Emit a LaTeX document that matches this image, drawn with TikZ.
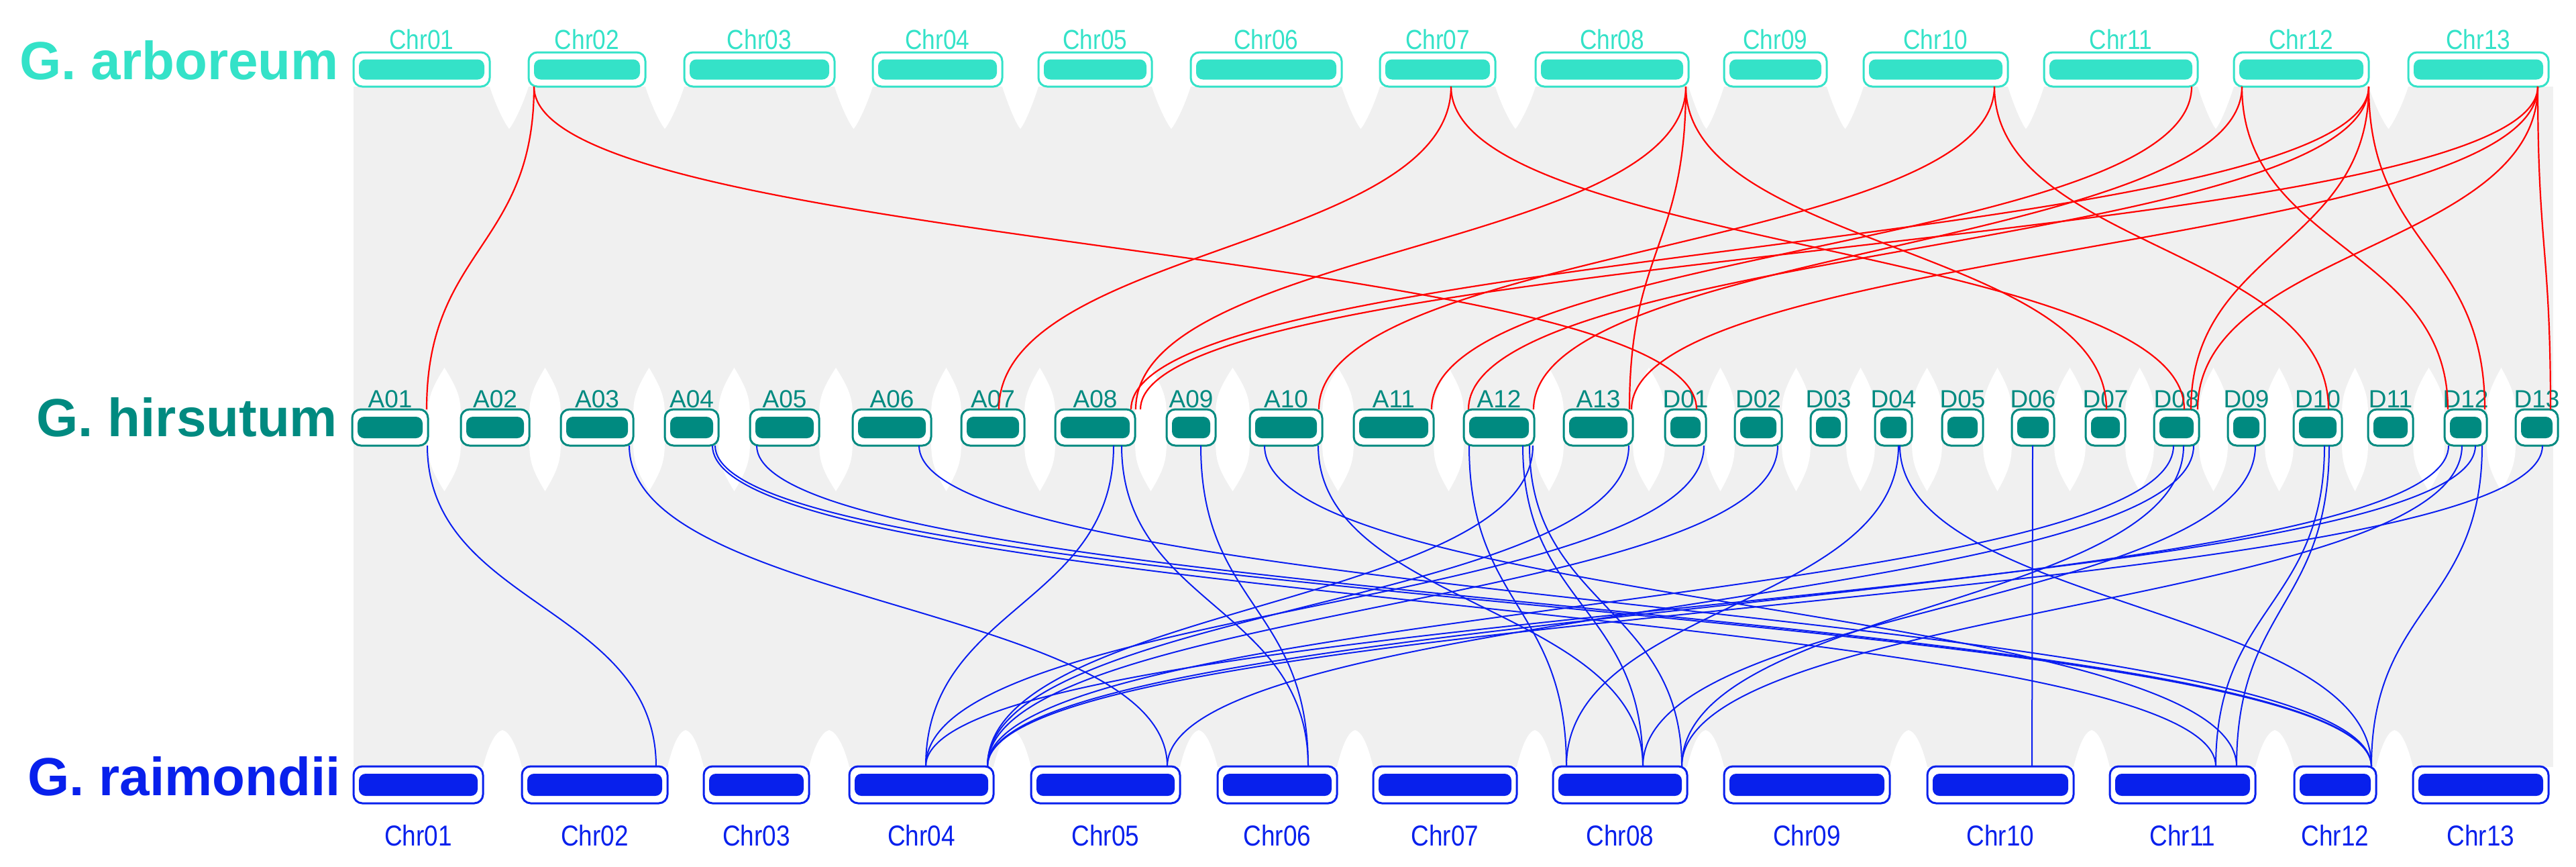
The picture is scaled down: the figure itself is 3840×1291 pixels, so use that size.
\documentclass[tikz,border=0pt]{standalone}
\usepackage{fontspec}
\setmainfont{Liberation Sans}
\newfontfamily\narrowfont[FakeStretch=0.86]{Liberation Sans}
\definecolor{topc}{RGB}{52,226,200}
\definecolor{midc}{RGB}{0,138,128}
\definecolor{botc}{RGB}{8,32,236}
\definecolor{redl}{RGB}{255,0,0}
\definecolor{bluel}{RGB}{10,30,240}
\definecolor{bgg}{RGB}{240,240,240}
\newcommand\chrom[7]{% name, x1, x2, yc, colour, label, label baseline
  \pgfmathsetmacro\cx{(#2+#3)/2}%
  \pgfmathsetmacro\cw{#3-#2}%
  \pgfmathsetmacro\ciw{#3-#2-16}%
  \node[chrout, draw=#5, minimum width=\cw pt, minimum height=\oh pt] (#1) at (\cx,#4) {};
  \node[chrin, fill=#5, minimum width=\ciw pt, minimum height=\ih pt] (#1in) at (#1.center) {};
  \node[chrlab, text=#5, font=\labfont] (#1lab) at (\cx,#7) {#6};
}
\newcommand\rlink[4]{\draw[redlink] (#1,0 |- #2.south) .. controls +(0,240) and +(0,-240) .. (#3,0 |- #4.north);}
\newcommand\blink[4]{\draw[bluelink] (#1,0 |- #2.south) .. controls +(0,239) and +(0,-239) .. (#3,0 |- #4.north);}
\newcommand\topgap[2]{\pgfmathsetmacro\gm{(#1+#2)/2}\fill[white] (#1,129) .. controls (#1+10,160) and (\gm-6,185) .. (\gm,192) .. controls (\gm+6,185) and (#2-10,160) .. (#2,129) -- cycle;}
\newcommand\midgap[2]{\pgfmathsetmacro\gm{(#1+#2)/2}\fill[white] (\gm,548) .. controls (#1-2,590) and (#1,600) .. (#1,637) .. controls (#1,680) and (#1-2,690) .. (\gm,732) .. controls (#2+2,690) and (#2,680) .. (#2,637) .. controls (#2,600) and (#2+2,590) .. (\gm,548) -- cycle;}
\newcommand\botgap[2]{\pgfmathsetmacro\gm{(#1+#2)/2}\fill[white] (#1,1143) .. controls (#1+8,1110) and (\gm-10,1090) .. (\gm,1088) .. controls (\gm+10,1090) and (#2-8,1110) .. (#2,1143) -- cycle;}
\begin{document}
\begin{tikzpicture}[x=1pt,y=-1pt,
  chrout/.style={line width=3pt, rounded corners=13pt, outer sep=0pt, inner sep=0pt, fill=white},
  chrin/.style={rounded corners=10pt, outer sep=0pt, inner sep=0pt},
  chrlab/.style={anchor=base, inner sep=0pt},
  title/.style={anchor=base west, inner sep=0pt, font=\fontsize{80}{90}\selectfont\bfseries},
  redlink/.style={draw=redl, line width=2.2pt},
  bluelink/.style={draw=bluel, line width=2pt}]
\path[use as bounding box] (0,0) rectangle (3840,1291);
% background of grey collinear blocks
\fill[bgg] (527,129) rectangle (3806,1143);
\foreach \a/\b in {730/788,962/1020,1244/1301,1494/1548,1717/1775,2000/2057,2229/2289,2517/2570,2723/2778,2993/3047,3276/3330,3531/3590}{\topgap{\a}{\b}}
\foreach \a/\b in {638/687,789/836,944/991,1071/1118,1221/1271,1388/1433,1527/1573,1692/1739,1812/1863,1971/2018,2137/2182,2287/2331,2434/2482,2543/2586,2656/2699,2752/2795,2850/2895,2956/2999,3062/3109,3168/3211,3278/3321,3376/3419,3491/3530,3597/3644,3707/3750}{\midgap{\a}{\b}}
\foreach \a/\b in {720/778,995/1049,1206/1266,1481/1537,1759/1815,1993/2047,2261/2315,2515/2570,2817/2873,3091/3145,3362/3420,3542/3597}{\botgap{\a}{\b}}
% titles
\node[title, text=topc] (tga) at (29,118) {G. arboreum};
\node[title, text=midc] (tgh) at (54,650) {G. hirsutum};
\node[title, text=botc] (tgr) at (41,1185) {G. raimondii};
% top row
\def\oh{51}\def\ih{30}\def\labfont{\narrowfont\fontsize{41}{45}\selectfont}
\chrom{a01}{527}{730}{103.5}{topc}{Chr01}{73}
\chrom{a02}{788}{962}{103.5}{topc}{Chr02}{73}
\chrom{a03}{1020}{1244}{103.5}{topc}{Chr03}{73}
\chrom{a04}{1301}{1494}{103.5}{topc}{Chr04}{73}
\chrom{a05}{1548}{1717}{103.5}{topc}{Chr05}{73}
\chrom{a06}{1775}{2000}{103.5}{topc}{Chr06}{73}
\chrom{a07}{2057}{2229}{103.5}{topc}{Chr07}{73}
\chrom{a08}{2289}{2517}{103.5}{topc}{Chr08}{73}
\chrom{a09}{2570}{2723}{103.5}{topc}{Chr09}{73}
\chrom{a10}{2778}{2993}{103.5}{topc}{Chr10}{73}
\chrom{a11}{3047}{3276}{103.5}{topc}{Chr11}{73}
\chrom{a12}{3330}{3531}{103.5}{topc}{Chr12}{73}
\chrom{a13}{3590}{3799}{103.5}{topc}{Chr13}{73}
% middle row
\def\oh{54}\def\ih{32}\def\labfont{\fontsize{37}{42}\selectfont}
\chrom{hA01}{525}{638}{637}{midc}{A01}{607}
\chrom{hA02}{687}{789}{637}{midc}{A02}{607}
\chrom{hA03}{836}{944}{637}{midc}{A03}{607}
\chrom{hA04}{991}{1071}{637}{midc}{A04}{607}
\chrom{hA05}{1118}{1221}{637}{midc}{A05}{607}
\chrom{hA06}{1271}{1388}{637}{midc}{A06}{607}
\chrom{hA07}{1433}{1527}{637}{midc}{A07}{607}
\chrom{hA08}{1573}{1692}{637}{midc}{A08}{607}
\chrom{hA09}{1739}{1812}{637}{midc}{A09}{607}
\chrom{hA10}{1863}{1971}{637}{midc}{A10}{607}
\chrom{hA11}{2018}{2137}{637}{midc}{A11}{607}
\chrom{hA12}{2182}{2287}{637}{midc}{A12}{607}
\chrom{hA13}{2331}{2434}{637}{midc}{A13}{607}
\chrom{hD01}{2482}{2543}{637}{midc}{D01}{607}
\chrom{hD02}{2586}{2656}{637}{midc}{D02}{607}
\chrom{hD03}{2699}{2752}{637}{midc}{D03}{607}
\chrom{hD04}{2795}{2850}{637}{midc}{D04}{607}
\chrom{hD05}{2895}{2956}{637}{midc}{D05}{607}
\chrom{hD06}{2999}{3062}{637}{midc}{D06}{607}
\chrom{hD07}{3109}{3168}{637}{midc}{D07}{607}
\chrom{hD08}{3211}{3278}{637}{midc}{D08}{607}
\chrom{hD09}{3321}{3376}{637}{midc}{D09}{607}
\chrom{hD10}{3419}{3491}{637}{midc}{D10}{607}
\chrom{hD11}{3530}{3597}{637}{midc}{D11}{607}
\chrom{hD12}{3644}{3707}{637}{midc}{D12}{607}
\chrom{hD13}{3750}{3813}{637}{midc}{D13}{607}
% bottom row
\def\oh{55}\def\ih{33}\def\labfont{\narrowfont\fontsize{43}{47}\selectfont}
\chrom{r01}{527}{720}{1169.5}{botc}{Chr01}{1260}
\chrom{r02}{778}{995}{1169.5}{botc}{Chr02}{1260}
\chrom{r03}{1049}{1206}{1169.5}{botc}{Chr03}{1260}
\chrom{r04}{1266}{1481}{1169.5}{botc}{Chr04}{1260}
\chrom{r05}{1537}{1759}{1169.5}{botc}{Chr05}{1260}
\chrom{r06}{1815}{1993}{1169.5}{botc}{Chr06}{1260}
\chrom{r07}{2047}{2261}{1169.5}{botc}{Chr07}{1260}
\chrom{r08}{2315}{2515}{1169.5}{botc}{Chr08}{1260}
\chrom{r09}{2570}{2817}{1169.5}{botc}{Chr09}{1260}
\chrom{r10}{2873}{3091}{1169.5}{botc}{Chr10}{1260}
\chrom{r11}{3145}{3362}{1169.5}{botc}{Chr11}{1260}
\chrom{r12}{3420}{3542}{1169.5}{botc}{Chr12}{1260}
\chrom{r13}{3597}{3799}{1169.5}{botc}{Chr13}{1260}
% red links: G. arboreum -> G. hirsutum
\rlink{796}{a02}{636}{hA01}
\rlink{796}{a02}{2529}{hD01}
\rlink{2163}{a07}{1489}{hA07}
\rlink{2163}{a07}{3256}{hD08}
\rlink{2513}{a08}{1693}{hA08}
\rlink{2513}{a08}{2429}{hA13}
\rlink{2513}{a08}{3140}{hD07}
\rlink{2973}{a10}{1966}{hA10}
\rlink{2973}{a10}{3471}{hD10}
\rlink{3267}{a11}{2134}{hA11}
\rlink{3342}{a12}{2286}{hA12}
\rlink{3342}{a12}{3649}{hD12}
\rlink{3531}{a12}{1686}{hA08}
\rlink{3531}{a12}{2189}{hA12}
\rlink{3531}{a12}{3266}{hD08}
\rlink{3531}{a12}{3704}{hD12}
\rlink{3783}{a13}{1700}{hA08}
\rlink{3783}{a13}{2432}{hA13}
\rlink{3783}{a13}{3276}{hD08}
\rlink{3783}{a13}{3802}{hD13}
% blue links: G. hirsutum -> G. raimondii
\blink{637}{hA01}{978}{r02}
\blink{938}{hA03}{1740}{r05}
\blink{1062}{hA04}{3303}{r11}
\blink{1066}{hA04}{3535}{r12}
\blink{1128}{hA05}{3535}{r12}
\blink{1370}{hA06}{3535}{r12}
\blink{1660}{hA08}{1380}{r04}
\blink{1672}{hA08}{1950}{r06}
\blink{1790}{hA09}{1950}{r06}
\blink{1885}{hA10}{3334}{r11}
\blink{1965}{hA10}{2449}{r08}
\blink{2190}{hA12}{2335}{r08}
\blink{2270}{hA12}{2449}{r08}
\blink{2280}{hA12}{2507}{r08}
\blink{2285}{hA12}{1472}{r04}
\blink{2428}{hA13}{1472}{r04}
\blink{2540}{hD01}{1380}{r04}
\blink{2650}{hD02}{1472}{r04}
\blink{2830}{hD04}{2335}{r08}
\blink{2832}{hD04}{3535}{r12}
\blink{3030}{hD06}{3029}{r10}
\blink{3240}{hD08}{1472}{r04}
\blink{3255}{hD08}{2507}{r08}
\blink{3270}{hD08}{1740}{r05}
\blink{3362}{hD09}{2449}{r08}
\blink{3465}{hD10}{3303}{r11}
\blink{3472}{hD10}{3334}{r11}
\blink{3650}{hD12}{1472}{r04}
\blink{3670}{hD12}{2507}{r08}
\blink{3690}{hD12}{1380}{r04}
\blink{3700}{hD12}{3535}{r12}
\blink{3790}{hD13}{1472}{r04}
\end{tikzpicture}
\end{document}
